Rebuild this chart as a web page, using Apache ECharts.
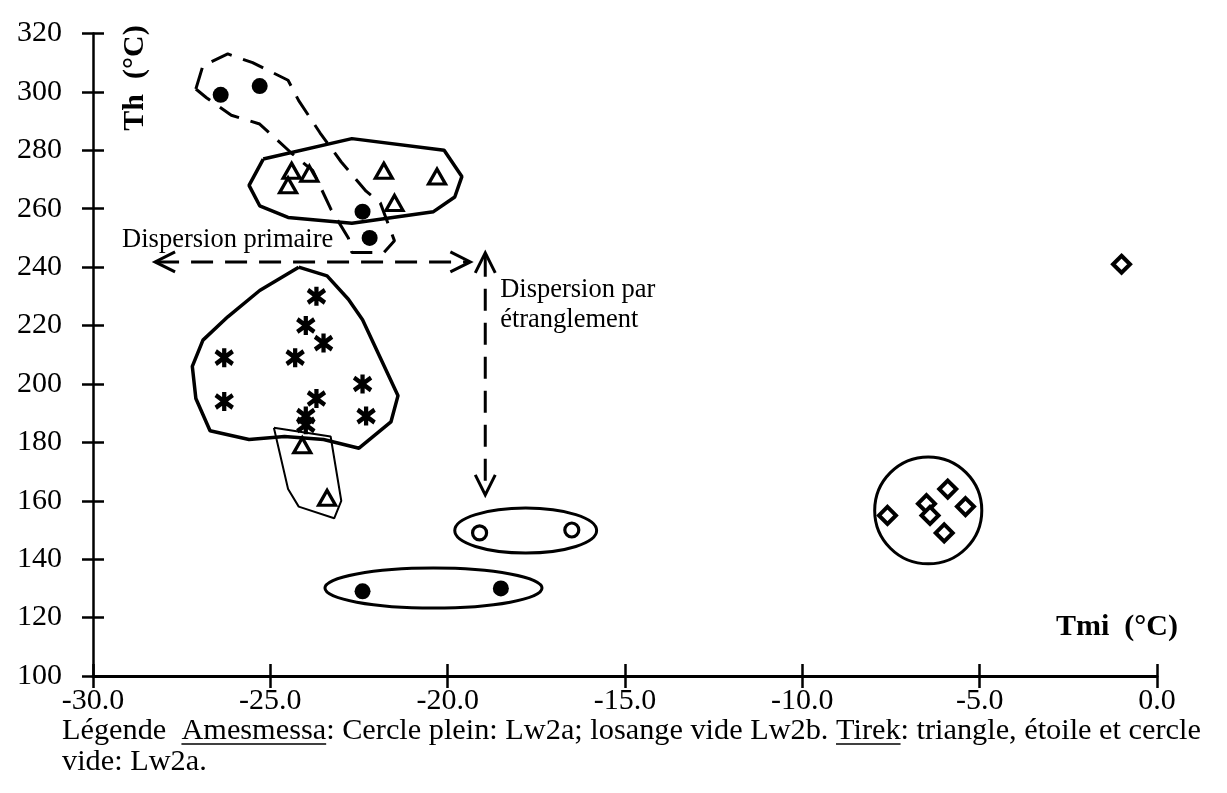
<!DOCTYPE html>
<html>
<head>
<meta charset="utf-8">
<title>Th - Tmi</title>
<script src="https://cdn.jsdelivr.net/npm/echarts@6/dist/echarts.min.js"></script>
<style>
  html, body { margin: 0; padding: 0; background: #fff; }
  #chart-one { width: 1227px; height: 793px; }
</style>
</head>
<body>
<div id="chart-one"></div>
<script>
// Th en fonction de Tmi, inclusions Amesmessa / Tirek

// --- données [Tmi, Th] ---
const ameFilled = [[-26.4, 299], [-25.3, 302], [-22.4, 259], [-22.2, 250], [-22.4, 129], [-18.5, 130]]
const ameDiamond = [[-7.6, 155], [-6.5, 159], [-6.4, 155], [-5.9, 164], [-5.4, 158], [-6.0, 149], [-1.0, 241]]
const tirekTriangle = [[-24.4, 273], [-23.9, 272], [-24.5, 268], [-21.8, 273], [-21.5, 262], [-20.3, 271], [-24.1, 179], [-23.4, 161]]
const tirekStar = [[-23.7, 230], [-24.0, 220], [-23.5, 214], [-26.3, 209], [-24.3, 209], [-26.3, 194], [-23.7, 195], [-22.4, 200], [-22.3, 189], [-24.0, 189], [-24.0, 186]]
const tirekOpen = [[-19.1, 149], [-16.5, 150]]

// axes
const xTicks = [-30, -25, -20, -15, -10, -5, 0]
const yTicks = [100, 120, 140, 160, 180, 200, 220, 240, 260, 280, 300, 320]

// enveloppes (contours dessinés à la main), en coordonnées Tmi/Th
const envDashed = [[-27.1, 301], [-26.9, 309], [-26.2, 313], [-25.5, 310], [-24.5, 304], [-24.2, 297], [-23.6, 286], [-23.0, 276], [-22.3, 266], [-21.9, 262], [-21.5, 249], [-21.8, 245], [-22.7, 245], [-22.8, 250], [-23.3, 260], [-23.8, 273], [-24.4, 279], [-25.3, 289], [-26.1, 292], [-26.8, 298], [-27.1, 301]]
const envTriangles = [[-25.2, 277], [-22.7, 284], [-20.1, 280], [-19.6, 271], [-19.8, 264], [-20.4, 259], [-22.7, 255], [-24.5, 257], [-25.3, 261], [-25.6, 268], [-25.2, 277]]
const envStars = [[-24.2, 240], [-23.4, 237], [-22.8, 229], [-22.4, 222], [-21.9, 209], [-21.4, 196], [-21.6, 187], [-22.5, 178], [-23.5, 181], [-24.6, 182], [-25.6, 181], [-26.7, 184], [-27.1, 195], [-27.2, 206], [-26.9, 215], [-26.2, 223], [-25.3, 232], [-24.2, 240]]
const envStem = [[-24.9, 185], [-23.3, 182], [-23.0, 160], [-23.2, 154], [-24.2, 158], [-24.5, 164], [-24.9, 185]]
// ellipses [cx, cy, rx, ry]
const ellipses = [[-17.8, 149.8, 2.0, 7.7], [-20.4, 130.1, 3.06, 6.85], [-6.45, 156.7, 1.51, 18.3]]

// flèches [x1, y1, x2, y2]
const arrows = [[-28.25, 241.8, -19.36, 241.8], [-18.94, 244.9, -18.94, 162]]
// annotations [x, y, texte]
const notes = [[-29.18, 249.3, 'Dispersion primaire'], [-18.52, 232.2, 'Dispersion par'], [-18.52, 221.9, 'étranglement']]

const FONT = '"Liberation Serif", "Times New Roman", serif'

const myChart = echarts.init(document.getElementById('chart-one'))
window.addEventListener('resize', function () {
  myChart.resize()
})

// ligne de légende avec mots soulignés
const captionParts = [
  { t: 'Légende  ', u: false },
  { t: 'Amesmessa', u: true },
  { t: ': Cercle plein: Lw2a; losange vide Lw2b. ', u: false },
  { t: 'Tirek', u: true },
  { t: ': triangle, étoile et cercle', u: false },
]
const capSize = 30.3
const ctx = document.createElement('canvas').getContext('2d')
ctx.font = capSize + 'px ' + FONT
const caption = []
let cx = 62
captionParts.forEach(function (p) {
  const w = ctx.measureText(p.t).width
  caption.push({
    type: 'text', x: cx, y: 716,
    style: { text: p.t, font: capSize + 'px ' + FONT, fill: '#000' },
  })
  if (p.u) {
    caption.push({
      type: 'line', shape: { x1: cx, y1: 744, x2: cx + w, y2: 744 },
      style: { stroke: '#000', lineWidth: 1.5 },
    })
  }
  cx += w
})
caption.push({
  type: 'text', x: 62, y: 747,
  style: { text: 'vide: Lw2a.', font: capSize + 'px ' + FONT, fill: '#000' },
})

function envelope(data, dashed, width) {
  return {
    type: 'line',
    data: data,
    symbol: 'none',
    silent: true,
    lineStyle: { color: '#000', width: width, type: dashed ? [22, 12] : 'solid' },
    z: 1,
  }
}

const axisText = { color: '#000', fontFamily: FONT, fontSize: 30 }
const gridBox = { left: 93, right: 70, top: 33.5, bottom: 117, containLabel: false }
const tickStyle = { color: '#000', width: 2.5 }

const option = {
  animation: false,
  backgroundColor: '#fff',
  // deuxième grille identique : seulement pour les graduations vers l'intérieur
  grid: [gridBox, gridBox],
  xAxis: [
    {
      type: 'value', min: xTicks[0], max: xTicks[xTicks.length - 1], interval: 5,
      axisLine: { onZero: false, lineStyle: { color: '#000', width: 3 } },
      axisTick: { length: 12, lineStyle: tickStyle },
      axisLabel: { ...axisText, margin: 10, formatter: function (v) { return v.toFixed(1) } },
      splitLine: { show: false },
    },
    {
      gridIndex: 1,
      type: 'value', min: xTicks[0], max: xTicks[xTicks.length - 1], interval: 5,
      axisLine: { show: false, onZero: false },
      axisTick: { inside: true, length: 12, lineStyle: tickStyle },
      axisLabel: { show: false },
      splitLine: { show: false },
    },
  ],
  yAxis: [
    {
      type: 'value', min: yTicks[0], max: yTicks[yTicks.length - 1], interval: 20,
      axisLine: { show: true, onZero: false, lineStyle: { color: '#000', width: 2.5 } },
      axisTick: { show: true, length: 11, lineStyle: tickStyle },
      axisLabel: { ...axisText, margin: 31 },
      splitLine: { show: false },
    },
    {
      gridIndex: 1,
      type: 'value', min: yTicks[0], max: yTicks[yTicks.length - 1], interval: 20,
      axisLine: { show: false, onZero: false },
      axisTick: { show: true, inside: true, length: 11, lineStyle: tickStyle },
      axisLabel: { show: false },
      splitLine: { show: false },
    },
  ],
  graphic: [
    {
      type: 'text', x: 135, y: 78, rotation: Math.PI / 2,
      style: { text: 'Th  (°C)', font: 'bold 30px ' + FONT, fill: '#000', align: 'center', verticalAlign: 'middle' },
    },
    {
      type: 'text', x: 1178, y: 627,
      style: { text: 'Tmi  (°C)', font: 'bold 30px ' + FONT, fill: '#000', align: 'right', verticalAlign: 'middle' },
    },
    ...caption,
  ],
  series: [
    envelope(envDashed, true, 3),
    envelope(envTriangles, false, 3.5),
    envelope(envStars, false, 3.5),
    envelope(envStem, false, 2),
    {
      // ellipses et cercle
      type: 'custom',
      data: ellipses,
      silent: true,
      renderItem: function (params, api) {
        const c = api.coord([api.value(0), api.value(1)])
        const s = api.size([api.value(2), api.value(3)])
        return {
          type: 'ellipse',
          shape: { cx: c[0], cy: c[1], rx: s[0], ry: s[1] },
          style: { fill: 'none', stroke: '#000', lineWidth: 3 },
        }
      },
    },
    {
      // flèches pointillées double sens
      type: 'custom',
      data: arrows,
      silent: true,
      renderItem: function (params, api) {
        const a = api.coord([api.value(0), api.value(1)])
        const b = api.coord([api.value(2), api.value(3)])
        const dx = b[0] - a[0], dy = b[1] - a[1]
        const len = Math.sqrt(dx * dx + dy * dy)
        const ux = dx / len, uy = dy / len
        const L = 20, W = 10
        function head(p, dir) {
          const bx = p[0] - dir * ux * L, by = p[1] - dir * uy * L
          return {
            type: 'polyline',
            shape: { points: [[bx - uy * W, by + ux * W], p, [bx + uy * W, by - ux * W]] },
            style: { fill: 'none', stroke: '#000', lineWidth: 3 },
          }
        }
        return {
          type: 'group',
          children: [
            {
              type: 'line',
              shape: { x1: a[0] + ux * 2, y1: a[1] + uy * 2, x2: b[0] - ux * 2, y2: b[1] - uy * 2 },
              style: { stroke: '#000', lineWidth: 3, lineDash: [22, 12] },
            },
            head(a, -1),
            head(b, 1),
          ],
        }
      },
    },
    {
      // annotations
      type: 'custom',
      data: notes,
      silent: true,
      renderItem: function (params, api) {
        const p = api.coord([api.value(0), api.value(1)])
        return {
          type: 'text', x: p[0], y: p[1],
          style: { text: notes[params.dataIndex][2], font: '26.5px ' + FONT, fill: '#000', align: 'left', verticalAlign: 'middle' },
        }
      },
    },
    {
      name: 'Amesmessa Lw2a',
      type: 'scatter', data: ameFilled, symbol: 'circle', symbolSize: 16,
      itemStyle: { color: '#000', opacity: 1 }, z: 3,
    },
    {
      name: 'Amesmessa Lw2b',
      type: 'scatter', data: ameDiamond, symbol: 'diamond', symbolSize: 17,
      itemStyle: { color: '#fff', borderColor: '#000', borderWidth: 4, opacity: 1 }, z: 3,
    },
    {
      name: 'Tirek triangle',
      type: 'scatter', data: tirekTriangle, symbol: 'triangle', symbolSize: [17, 15],
      itemStyle: { color: '#fff', borderColor: '#000', borderWidth: 3.2, opacity: 1 }, z: 3,
    },
    {
      name: 'Tirek étoile',
      type: 'scatter', data: tirekStar, symbol: 'path://M5,0L5,12M0,2L10,10M0,10L10,2', symbolSize: [17, 19],
      itemStyle: { color: 'none', borderColor: '#000', borderWidth: 4.5, opacity: 1 }, z: 3,
    },
    {
      name: 'Tirek cercle vide',
      type: 'scatter', data: tirekOpen, symbol: 'circle', symbolSize: 14,
      itemStyle: { color: '#fff', borderColor: '#000', borderWidth: 3.2, opacity: 1 }, z: 3,
    },
  ],
}
myChart.setOption(option)
</script>
</body>
</html>
